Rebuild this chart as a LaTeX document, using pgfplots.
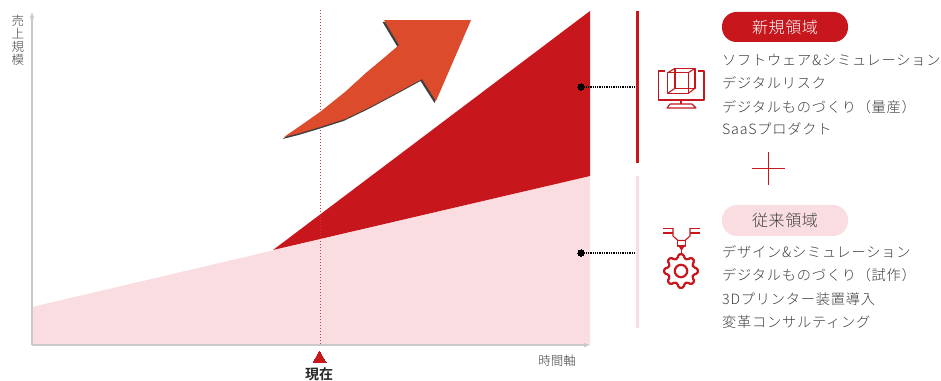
\documentclass[border=0pt]{standalone}
\usepackage{pgfplots}
\pgfplotsset{compat=1.18}
\usetikzlibrary{arrows.meta}
\usepackage{fontspec}
\setmainfont{Noto Sans CJK JP}[UprightFont=* Light,BoldFont=* Bold]
\newfontfamily\listfont{Noto Sans CJK JP}[UprightFont=* Light,LetterSpace=5.5]
\newfontfamily\pillfont{Noto Sans CJK JP}[UprightFont=* Light,LetterSpace=4]
\definecolor{newred}{HTML}{C8161D}
\definecolor{oldpink}{HTML}{FADDE0}
\definecolor{arroworange}{HTML}{DC4B2B}
\definecolor{axisgrey}{HTML}{C9C9C9}
\definecolor{ink}{HTML}{404040}
\begin{document}
\begin{tikzpicture}
\useasboundingbox (0,0) rectangle (941pt,380pt);
\begin{axis}[
  at={(0,0)}, anchor=south west,
  scale only axis, width=941pt, height=380pt,
  xmin=0, xmax=941, ymin=0, ymax=380, y dir=reverse,
  hide axis, clip=false,
]
% existing business
\addplot[fill=oldpink, draw=none] coordinates {(32,307) (590,176) (590,345) (32,345)} -- cycle;
% new business on top of it
\addplot[fill=newred, draw=none] coordinates {(273,250) (590,11) (590,176)} -- cycle;
% axes
\addplot[axisgrey, line width=1.6pt, -{Latex[length=6pt,width=5pt]}] coordinates {(32,345) (32,12)};
\addplot[axisgrey, line width=1.6pt, -{Latex[length=6pt,width=5pt]}] coordinates {(32,345) (590,345)};
% "now" marker
\addplot[newred!85, line width=1pt, dotted] coordinates {(320,10) (320,344)};
\addplot[only marks, mark=triangle*, mark size=7.5pt, mark options={fill=newred, draw=newred, line width=0pt}] coordinates {(319.5,358.5)};
% leaders from the areas to the brackets
\addplot[black, line width=1.3pt, densely dotted] coordinates {(581,87) (636,87)};
\addplot[black, line width=1.3pt, densely dotted] coordinates {(581,253) (636,253)};
\addplot[only marks, mark=*, mark size=3.2pt, mark options={fill=black, draw=black, line width=0pt}] coordinates {(581,87) (581,253)};
% brackets
\addplot[newred, line width=3pt] coordinates {(637.5,11) (637.5,163)};
\addplot[oldpink, line width=3pt] coordinates {(637.5,176) (637.5,328)};
% plus sign
\addplot[newred, line width=1pt] coordinates {(752,168) (785,168)};
\addplot[newred, line width=1pt] coordinates {(768.5,152) (768.5,185)};
% growth arrow: shadow, then body
\addplot[fill=black!75, draw=none] coordinates {(282.5,139) (298.5,135) (318.5,129) (343.5,121) (356,115) (368.5,109) (398.5,93) (420.5,81) (434.5,103) (470,21.5) (382.5,22) (397.5,47) (383.5,59) (365.5,74) (343.5,94) (318.5,114) (298.5,128) (282.5,139)} -- cycle;
\addplot[fill=arroworange, draw=none] coordinates {(284,137) (300,126) (320,112) (345,92) (367,72) (385,57) (399,45) (384,20) (471,20) (436,101) (422,79) (400,91) (370,107) (357.5,113) (345,119) (320,127) (300,133) (284,137)} -- cycle;
\end{axis}
\begin{scope}[x=1pt, y=-1pt, shift={(0,380pt)}]
  % axis captions
  \foreach \c/\y in {売/21,上/33.5,規/47,模/60}
    \node[text=ink, font=\fontsize{12.5}{12}\selectfont, inner sep=0] at (18,\y) {\c};
  \node[text=ink, font=\fontsize{12.5}{13}\selectfont, inner sep=0] at (557,361) {時間軸};
  \node[text=black!85, font=\fontsize{14}{14}\selectfont\bfseries, inner sep=0] at (319,374) {現在};
  % category pills
  \fill[newred, rounded corners=14.5pt] (722,12) rectangle (848,42);
  \fill[oldpink, rounded corners=15pt] (722,205) rectangle (848,236);
  \node[white, font=\pillfont\fontsize{16}{16}\selectfont, inner sep=0] at (785,27) {新規領域};
  \node[text=ink, font=\pillfont\fontsize{16}{16}\selectfont, inner sep=0] at (785,220.5) {従来領域};
  % item lists
  \foreach \t/\y in {ソフトウェア\&シミュレーション/60,デジタルリスク/83,デジタルものづくり（量産）/107,SaaSプロダクト/129,
                     デザイン\&シミュレーション/252,デジタルものづくり（試作）/275,3Dプリンター装置導入/299,変革コンサルティング/322}
    \node[text=ink, anchor=west, font=\listfont\fontsize{14.2}{14}\selectfont, inner sep=0] at (722,\y) {\t};
  % monitor with a wireframe cube
  \begin{scope}[newred, line width=1.1pt, line join=round]
    \draw (665,71) -- (658.5,71) -- (658.5,100) -- (704,100) -- (704,71) -- (698,71);
    \draw (681,100) -- (681,104);
    \draw (670,104) -- (692,104) -- (696,108) -- (667,108) -- cycle;
    \draw (667.7,72.7) rectangle (688.3,93.3);
    \draw (675,68.3) rectangle (695,88.3);
    \draw (667.7,72.7) -- (675,68.3) (688.3,72.7) -- (695,68.3) (667.7,93.3) -- (675,88.3) (688.3,93.3) -- (695,88.3);
  \end{scope}
  % printer head above a gear
  \begin{scope}[newred, line width=1.1pt, line join=round]
    \draw (663,228.5) -- (673,228.5) (663,233) -- (673,233);
    \draw (690,228.5) -- (700,228.5) (690,233) -- (700,233);
    \draw (673,228) -- (673,236) -- (678,240.5) -- (685,240.5) -- (690,236) -- (690,228);
    \draw (677.5,240.5) -- (677.5,246) -- (685.5,246) -- (685.5,240.5);
    \fill (678.5,246) -- (684.5,246) -- (681.5,251) -- cycle;
    \draw (681.5,251) -- (681.5,254);
    \begin{scope}[shift={(681,271)}, line width=2.2pt]
      \draw[rounded corners=1.5pt] (-14:13)
        \foreach \a in {0,45,...,315} {
          -- ({\a-14}:13) -- ({\a-9}:17) -- ({\a+9}:17) -- ({\a+14}:13)
        } -- cycle;
      \draw (0,0) circle (6.2);
    \end{scope}
  \end{scope}
\end{scope}
\end{tikzpicture}
\end{document}
